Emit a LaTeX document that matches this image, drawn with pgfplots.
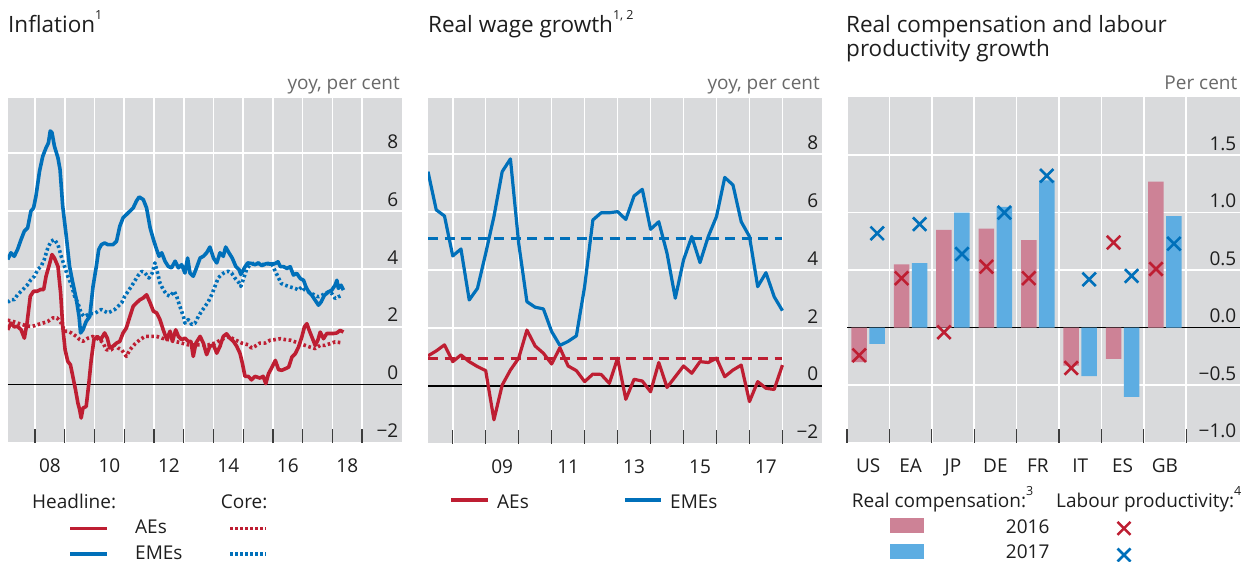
\documentclass[border=0pt]{standalone}
\usepackage{fontspec}
\setmainfont{Open Sans}
\usepackage{pgfplots}
\pgfplotsset{compat=1.18}
\definecolor{bggray}{RGB}{217,218,220}
\definecolor{redc}{RGB}{190,30,50}
\definecolor{bluec}{RGB}{0,112,186}
\definecolor{pinkc}{RGB}{205,130,150}
\definecolor{ltblue}{RGB}{93,173,226}
\definecolor{textc}{RGB}{30,30,30}
\definecolor{unitc}{RGB}{105,105,105}
\definecolor{tickc}{RGB}{60,60,60}
\newcommand{\sups}[1]{\raisebox{0.62em}{\fontsize{12.5}{13}\selectfont #1}}
\newcommand{\smallf}{\fontsize{19}{22}\selectfont}
\newcommand{\titlef}{\fontsize{22.5}{27}\selectfont}
\pgfplotsset{
  panel/.style={
    scale only axis,
    axis background/.style={fill=bggray},
    axis line style={draw=none},
    xmajorgrids, ymajorgrids,
    grid style={white, line width=1.6pt},
    tick align=inside,
    xtick pos=bottom, ytick pos=right,
    yticklabel pos=right,
    major tick length=14pt,
    x tick style={draw=tickc, line width=1.3pt},
    y tick style={draw=none},
    yticklabel style={anchor=base east, inner sep=0pt, xshift=-3.5pt, yshift=5pt, font=\smallf, text=textc},
    xticklabel style={anchor=base, inner sep=0pt, yshift=-29.5pt, font=\smallf, text=textc},
    xticklabels={},
    extra x tick style={grid=none, major tick length=0pt, tick style={draw=none}},
    extra y tick style={ymajorgrids=true, major grid style={black, line width=1.2pt}},
    extra y ticks={0},
    clip=true,
  }
}
\begin{document}
\begin{tikzpicture}[x=1pt,y=1pt]
\useasboundingbox (0,0) rectangle (1245,562);
% ---------------- Panel 1 ----------------
\begin{axis}[panel, at={(8pt,119.4pt)}, anchor=south west,
  width=394pt, height=344.3pt,
  xmin=2007.09, xmax=2020.34, ymin=-2, ymax=9.9,
  xtick={2008,...,2019},
  extra x ticks={2008.5,2010.5,2012.5,2014.5,2016.5,2018.5},
  extra x tick labels={08,10,12,14,16,18},
  ytick={-2,2,4,6,8}, yticklabels={−2,2,4,6,8},
  extra y tick labels={0},
]
\addplot[bluec, line width=3.6pt, line join=round, dash pattern=on 2.6pt off 2.6pt] coordinates {
(2007.08,2.85)(2007.19,2.94)(2007.30,2.94)(2007.41,3.11)(2007.53,3.23)(2007.64,3.34)(2007.75,3.46)(2007.86,3.63)(2007.98,3.75)(2008.09,3.98)(2008.20,4.09)(2008.31,4.33)(2008.43,4.73)(2008.54,4.96)(2008.65,5.02)(2008.77,4.84)(2008.88,4.44)(2008.99,4.09)(2009.10,3.75)(2009.22,3.46)(2009.33,3.06)(2009.44,2.83)(2009.55,2.48)(2009.64,2.36)(2009.78,2.42)(2009.89,2.46)(2010.00,2.46)(2010.12,2.54)(2010.23,2.60)(2010.34,2.54)(2010.45,2.48)(2010.57,2.54)(2010.68,2.60)(2010.79,2.71)(2010.91,2.83)(2011.02,3.06)(2011.13,3.23)(2011.24,3.40)(2011.36,3.60)(2011.47,3.78)(2011.59,3.92)(2011.70,3.86)(2011.83,3.69)(2011.94,3.86)(2012.03,4.21)(2012.12,3.86)(2012.20,3.52)(2012.31,3.29)(2012.43,3.11)(2012.54,3.06)(2012.68,3.23)(2012.76,3.06)(2012.87,2.71)(2012.99,2.36)(2013.04,2.13)(2013.15,2.25)(2013.27,2.08)(2013.38,2.13)(2013.49,2.36)(2013.60,2.54)(2013.72,2.71)(2013.83,2.88)(2013.94,3.11)(2014.05,3.40)(2014.16,3.69)(2014.27,3.81)(2014.39,3.89)(2014.50,3.92)(2014.61,3.86)(2014.72,3.69)(2014.86,3.52)(2014.92,3.40)(2015.00,3.63)(2015.11,3.98)(2015.23,4.15)(2015.34,4.19)(2015.51,4.19)(2015.68,4.15)(2015.84,4.19)(2015.97,4.17)(2016.06,3.96)(2016.17,3.73)(2016.28,3.50)(2016.41,3.44)(2016.58,3.38)(2016.75,3.33)(2016.86,3.27)(2016.97,3.38)(2017.08,3.27)(2017.20,3.21)(2017.31,3.15)(2017.42,3.09)(2017.53,3.04)(2017.64,3.09)(2017.75,3.15)(2017.87,3.21)(2017.98,3.15)(2018.09,2.98)(2018.20,3.04)(2018.32,3.09)};
\addplot[redc, line width=3.6pt, line join=round, dash pattern=on 2.6pt off 2.6pt] coordinates {
(2007.08,2.23)(2007.25,2.19)(2007.41,2.13)(2007.58,2.08)(2007.75,2.02)(2007.92,2.02)(2008.09,2.08)(2008.26,2.13)(2008.43,2.19)(2008.60,2.31)(2008.74,2.31)(2008.88,2.13)(2008.99,1.85)(2009.10,1.85)(2009.22,1.79)(2009.39,1.67)(2009.50,1.56)(2009.61,1.50)(2009.78,1.61)(2009.95,1.67)(2010.06,1.61)(2010.17,1.56)(2010.29,1.44)(2010.40,1.21)(2010.57,1.21)(2010.68,1.38)(2010.79,1.27)(2010.91,1.21)(2011.07,0.98)(2011.19,1.21)(2011.36,1.41)(2011.53,1.56)(2011.70,1.67)(2011.92,1.67)(2012.09,1.67)(2012.26,1.61)(2012.48,1.56)(2012.71,1.50)(2012.93,1.44)(2013.15,1.38)(2013.38,1.38)(2013.60,1.38)(2013.83,1.38)(2014.05,1.44)(2014.27,1.56)(2014.50,1.67)(2014.72,1.56)(2014.95,1.44)(2015.17,1.38)(2015.28,1.27)(2015.40,1.33)(2015.56,1.44)(2015.73,1.44)(2015.91,1.54)(2016.08,1.56)(2016.25,1.59)(2016.41,1.56)(2016.58,1.54)(2016.75,1.48)(2016.92,1.42)(2017.08,1.36)(2017.25,1.30)(2017.42,1.25)(2017.59,1.36)(2017.75,1.36)(2017.92,1.42)(2018.09,1.48)(2018.32,1.45)};
\addplot[bluec, line width=3.6pt, line join=round] coordinates {
(2007.08,4.33)(2007.19,4.56)(2007.30,4.44)(2007.41,4.67)(2007.53,5.02)(2007.64,5.31)(2007.75,5.42)(2007.86,6.00)(2007.95,6.11)(2008.03,6.52)(2008.15,7.38)(2008.26,7.90)(2008.37,8.19)(2008.45,8.36)(2008.51,8.77)(2008.57,8.71)(2008.65,8.25)(2008.77,7.84)(2008.84,7.44)(2008.93,6.17)(2009.05,5.13)(2009.16,4.09)(2009.27,3.52)(2009.39,2.94)(2009.48,2.36)(2009.53,1.79)(2009.61,1.90)(2009.72,2.19)(2009.84,2.36)(2009.95,3.40)(2010.06,4.09)(2010.14,4.67)(2010.23,4.84)(2010.34,4.90)(2010.45,4.84)(2010.62,4.84)(2010.74,4.96)(2010.85,5.48)(2010.96,5.77)(2011.07,5.88)(2011.19,6.00)(2011.30,6.11)(2011.41,6.35)(2011.50,6.49)(2011.64,6.40)(2011.75,6.11)(2011.87,5.42)(2011.98,5.02)(2012.09,4.67)(2012.17,4.44)(2012.26,4.56)(2012.37,4.27)(2012.48,4.09)(2012.59,4.04)(2012.71,4.27)(2012.82,4.04)(2012.93,4.15)(2013.04,3.86)(2013.13,4.38)(2013.21,3.86)(2013.32,3.75)(2013.43,4.04)(2013.55,4.38)(2013.66,4.44)(2013.77,4.56)(2013.88,4.76)(2014.00,4.38)(2014.11,4.21)(2014.22,4.56)(2014.33,4.44)(2014.41,4.76)(2014.52,4.56)(2014.63,4.38)(2014.75,4.09)(2014.86,3.98)(2014.92,3.81)(2015.04,4.04)(2015.15,4.21)(2015.28,4.19)(2015.40,4.15)(2015.51,4.21)(2015.62,4.12)(2015.79,4.19)(2015.90,4.17)(2016.08,4.19)(2016.17,4.25)(2016.25,4.08)(2016.36,4.08)(2016.47,4.02)(2016.58,4.08)(2016.69,3.79)(2016.80,3.85)(2016.92,3.67)(2017.03,3.61)(2017.11,3.38)(2017.20,3.21)(2017.31,3.09)(2017.42,2.92)(2017.53,2.75)(2017.62,2.86)(2017.73,3.09)(2017.87,3.21)(2017.98,3.27)(2018.09,3.44)(2018.15,3.61)(2018.20,3.33)(2018.29,3.44)(2018.37,3.27)};
\addplot[redc, line width=3.6pt, line join=round] coordinates {
(2007.08,1.90)(2007.19,2.13)(2007.30,2.00)(2007.41,2.02)(2007.53,1.90)(2007.64,1.61)(2007.73,2.13)(2007.84,3.06)(2007.95,3.23)(2008.07,3.23)(2008.18,3.29)(2008.29,3.29)(2008.37,3.75)(2008.48,4.15)(2008.57,4.50)(2008.65,4.38)(2008.77,4.09)(2008.86,3.17)(2008.93,2.02)(2009.01,1.21)(2009.10,0.81)(2009.19,0.69)(2009.27,0.29)(2009.36,-0.17)(2009.44,-0.63)(2009.50,-0.87)(2009.55,-1.15)(2009.61,-0.81)(2009.72,-0.75)(2009.81,0.06)(2009.89,0.87)(2009.98,1.56)(2010.09,1.67)(2010.21,1.56)(2010.34,1.79)(2010.43,1.61)(2010.51,1.27)(2010.62,1.33)(2010.74,1.44)(2010.85,1.50)(2010.96,1.79)(2011.07,1.96)(2011.19,2.36)(2011.30,2.71)(2011.41,2.83)(2011.53,2.94)(2011.64,3.00)(2011.75,3.11)(2011.87,2.83)(2011.98,2.54)(2012.09,2.48)(2012.20,2.25)(2012.31,1.90)(2012.43,1.56)(2012.54,1.85)(2012.62,1.50)(2012.73,1.90)(2012.82,1.67)(2012.93,1.56)(2013.04,1.61)(2013.15,1.50)(2013.24,1.50)(2013.32,0.98)(2013.41,1.44)(2013.55,1.67)(2013.66,1.44)(2013.77,1.04)(2013.88,1.33)(2014.00,1.38)(2014.11,1.09)(2014.22,1.33)(2014.33,1.67)(2014.44,1.76)(2014.55,1.61)(2014.67,1.50)(2014.78,1.33)(2014.89,1.09)(2014.97,0.75)(2015.06,0.29)(2015.17,0.29)(2015.28,0.17)(2015.40,0.29)(2015.56,0.23)(2015.67,0.29)(2015.76,0.04)(2015.85,0.38)(2015.97,0.61)(2016.08,0.84)(2016.19,0.52)(2016.30,0.50)(2016.41,0.55)(2016.53,0.61)(2016.64,0.96)(2016.75,1.07)(2016.86,1.30)(2016.97,1.65)(2017.06,2.00)(2017.14,2.11)(2017.22,1.88)(2017.31,1.65)(2017.42,1.36)(2017.51,1.54)(2017.59,1.82)(2017.70,1.59)(2017.81,1.77)(2017.92,1.77)(2018.03,1.77)(2018.15,1.79)(2018.26,1.88)(2018.37,1.82)};
\end{axis}
% ---------------- Panel 2 ----------------
\begin{axis}[panel, at={(428pt,118.1pt)}, anchor=south west,
  width=394pt, height=345.5pt,
  xmin=2007.25, xmax=2019.2, ymin=-2, ymax=9.93,
  xtick={2008,...,2018},
  extra x ticks={2009.5,2011.5,2013.5,2015.5,2017.5},
  extra x tick labels={09,11,13,15,17},
  ytick={-2,2,4,6,8}, yticklabels={−2,2,4,6,8},
  extra y tick labels={0},
]
\addplot[bluec, line width=3pt, dash pattern=on 10pt off 6.5pt] coordinates {(2007.25,5.10)(2018,5.10)};
\addplot[redc, line width=3pt, dash pattern=on 10pt off 6.5pt] coordinates {(2007.25,0.955)(2018,0.955)};
\addplot[bluec, line width=3.2pt, line join=round] coordinates {
(2007.25,7.40)(2007.50,6.08)(2007.75,5.87)(2008.00,4.49)(2008.25,4.73)(2008.50,2.97)(2008.75,3.37)(2009.00,4.58)(2009.25,5.85)(2009.50,7.40)(2009.75,7.84)(2010.00,4.93)(2010.25,2.91)(2010.50,2.72)(2010.75,2.66)(2011.00,1.88)(2011.25,1.40)(2011.50,1.54)(2011.75,1.73)(2012.00,3.43)(2012.25,5.73)(2012.50,5.98)(2012.75,5.98)(2013.00,6.02)(2013.25,5.75)(2013.50,6.56)(2013.75,6.79)(2014.00,5.41)(2014.25,5.67)(2014.50,4.58)(2014.75,3.03)(2015.00,4.35)(2015.25,5.16)(2015.50,4.26)(2015.75,5.16)(2016.00,5.85)(2016.25,7.20)(2016.50,6.94)(2016.75,5.67)(2017.00,5.16)(2017.25,3.43)(2017.50,3.91)(2017.75,3.08)(2018.00,2.60)};
\addplot[redc, line width=3.2pt, line join=round] coordinates {
(2007.25,1.04)(2007.50,1.21)(2007.75,1.42)(2008.00,0.84)(2008.25,1.07)(2008.50,0.84)(2008.75,0.67)(2009.00,0.53)(2009.25,-1.17)(2009.50,0.03)(2009.75,0.55)(2010.00,0.96)(2010.25,1.93)(2010.50,1.38)(2010.75,1.13)(2011.00,0.76)(2011.25,1.32)(2011.50,0.69)(2011.75,0.53)(2012.00,0.15)(2012.25,0.41)(2012.50,0.40)(2012.75,0.09)(2013.00,0.96)(2013.25,-0.46)(2013.50,0.23)(2013.75,0.17)(2014.00,-0.20)(2014.25,0.81)(2014.50,-0.05)(2014.75,0.32)(2015.00,0.69)(2015.25,0.44)(2015.50,0.84)(2015.75,0.81)(2016.00,0.96)(2016.25,0.32)(2016.50,0.55)(2016.75,0.72)(2017.00,-0.54)(2017.25,0.15)(2017.50,-0.08)(2017.75,-0.12)(2018.00,0.72)};
\end{axis}
% ---------------- Panel 3 ----------------
\begin{axis}[panel, at={(847pt,119.2pt)}, anchor=south west,
  width=393pt, height=345.3pt,
  xmin=-0.5, xmax=8.77, ymin=-1, ymax=2,
  xtick={-0.5,0.5,...,7.5},
  extra x ticks={0,...,7},
  extra x tick labels={US,EA,JP,DE,FR,IT,ES,GB},
  ytick={-1,-0.5,0.5,1,1.5}, yticklabels={−1.0,−0.5,0.5,1.0,1.5},
  extra y tick labels={0.0},
]
\addplot[ybar, bar width=15.5pt, bar shift=-9pt, fill=pinkc, draw=none] coordinates {(0,-0.30)(1,0.55)(2,0.85)(3,0.86)(4,0.76)(5,-0.33)(6,-0.27)(7,1.27)};
\addplot[ybar, bar width=15.5pt, bar shift=9pt, fill=ltblue, draw=none] coordinates {(0,-0.14)(1,0.56)(2,1.00)(3,1.05)(4,1.28)(5,-0.42)(6,-0.60)(7,0.97)};
\addplot[only marks, mark=x, mark size=9.5pt, redc, mark options={line width=2.6pt}] coordinates {(-0.212,-0.24)(0.788,0.43)(1.788,-0.04)(2.788,0.53)(3.788,0.43)(4.788,-0.35)(5.788,0.74)(6.788,0.51)};
\addplot[only marks, mark=x, mark size=9.5pt, bluec, mark options={line width=2.6pt}] coordinates {(0.212,0.82)(1.212,0.90)(2.212,0.64)(3.212,1.00)(4.212,1.32)(5.212,0.42)(6.212,0.45)(7.212,0.73)};
\end{axis}
% ---------------- Titles ----------------
\node[anchor=base west, inner sep=0pt, font=\titlef, text=textc] at (8,529) {Inflation\sups{1}};
\node[anchor=base west, inner sep=0pt, font=\titlef, text=textc] at (428,529) {Real wage growth\sups{1, 2}};
\node[anchor=base west, inner sep=0pt, font=\titlef, text=textc] at (846,529) {Real compensation and labour};
\node[anchor=base west, inner sep=0pt, font=\titlef, text=textc] at (846,505.6) {productivity growth};
\node[anchor=base east, inner sep=0pt, font=\smallf, text=unitc] at (400,472) {yoy, per cent};
\node[anchor=base east, inner sep=0pt, font=\smallf, text=unitc] at (820,472) {yoy, per cent};
\node[anchor=base east, inner sep=0pt, font=\smallf, text=unitc] at (1237.5,472) {Per cent};
% ---------------- Legends ----------------
\begin{scope}[every node/.style={anchor=base west, inner sep=0pt, font=\smallf, text=textc}]
\node at (32,53) {Headline:};
\node at (220.7,53) {Core:};
\draw[redc, line width=3.3pt] (70,33.7) -- (106.7,33.7);
\node at (135,28.7) {AEs};
\draw[redc, line width=3.3pt, dash pattern=on 2.5pt off 2.5pt] (230,33.7) -- (266,33.7);
\draw[bluec, line width=3.3pt] (70,8) -- (106.7,8);
\node at (135,2.5) {EMEs};
\draw[bluec, line width=3.3pt, dash pattern=on 2.5pt off 2.5pt] (230,8) -- (266,8);
\draw[redc, line width=3.3pt] (451,62) -- (488,62);
\node at (497,53) {AEs};
\draw[bluec, line width=3.3pt] (625,62) -- (661,62);
\node at (670,53) {EMEs};
\node at (851.7,54.7) {Real compensation:\sups{3}};
\node at (1056,54.7) {Labour productivity:\sups{4}};
\fill[pinkc] (890,29.3) rectangle (924,43.7);
\node at (1005.7,28.7) {2016};
\draw[redc, line width=2.5pt] (1117.5,27.2) -- (1130.5,40.2) (1117.5,40.2) -- (1130.5,27.2);
\fill[ltblue] (890,3) rectangle (924,17.7);
\node at (1005.7,3) {2017};
\draw[bluec, line width=2.5pt] (1117.5,0.5) -- (1130.5,13.5) (1117.5,13.5) -- (1130.5,0.5);
\end{scope}
\end{tikzpicture}
\end{document}
